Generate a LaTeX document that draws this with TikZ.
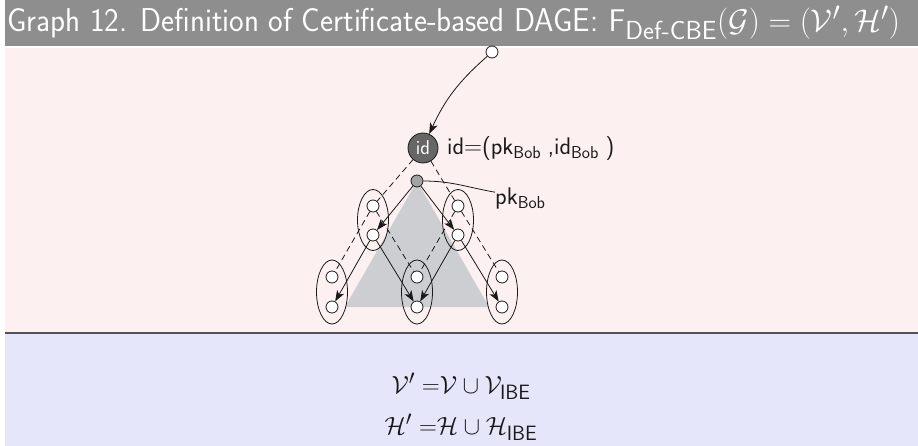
\documentclass[tikz,border=0pt]{standalone}
\usepackage{amsmath,amssymb,graphicx}
\usetikzlibrary{arrows.meta,positioning,shapes.geometric}
\definecolor{Bar}{HTML}{8E8E8E}
\definecolor{Blush}{HTML}{FCF0F0}
\definecolor{Lilac}{HTML}{E6E6FB}
\definecolor{Shade}{HTML}{CDCED1}
\definecolor{Dark}{HTML}{666666}
\definecolor{Mid}{HTML}{A3A3A3}
\definecolor{Ink}{HTML}{1A1A1A}
\tikzset{>={Stealth[length=11pt,width=8pt,inset=3pt]},
 every node/.style={font=\sffamily,text=Ink},
 vtx/.style={circle,draw=Ink,fill=white,line width=.8pt,inner sep=0pt,minimum size=12pt},
 grp/.style={ellipse,draw=Ink,line width=.8pt,inner sep=0pt,minimum width=31pt,minimum height=61pt},
 hard/.style={->,line width=.8pt,draw=Ink},
 soft/.style={line width=.8pt,draw=Ink,dash pattern=on 6pt off 4pt},
 tag/.style={font=\fontsize{24}{28}\sffamily,anchor=west,inner sep=0pt},
 }

\begin{document}
\begin{tikzpicture}[x=1pt,y=-1pt]
 \useasboundingbox (0,0) rectangle (918,446);
 % panels
 \fill[Bar](5,0)rectangle(918,46);
 \fill[Blush](5,48)rectangle(918,332);
 \fill[Lilac](5,334)rectangle(918,446);
 \draw[Ink!75,line width=1.6pt](5,333)--(918,333);
 \node[text=white,anchor=base west,inner sep=0pt] (title) at (7,32)
  {\fontsize{33}{40}\selectfont\scalebox{.94}[1]{Graph 12. Definition of Certificate-based DAGE:}
   \fontsize{24.88}{30}\selectfont\scalebox{1.26}{$\mathsf{F}_{\textsf{Def-CBE}}(\mathcal{G})=(\mathcal{V}',\mathcal{H}')$}};
 % shaded cone below pk
 \coordinate (apex) at (417,181);
 \fill[Shade](apex)--(345,307)--(489,307)--cycle;
 % groups
 \node[grp] (ul) at (373,220) {};
 \node[grp] (ur) at (458,220) {};
 \node[grp,minimum height=64pt] (bl) at (332,292) {};
 \node[grp,minimum height=64pt] (bm) at (417,292) {};
 \node[grp,minimum height=64pt] (br) at (502,292) {};
 \node[vtx] (ul1) at (373,206) {}; \node[vtx] (ul2) at (373,235) {};
 \node[vtx] (ur1) at (458,206) {}; \node[vtx] (ur2) at (458,235) {};
 \node[vtx] (bl1) at (332,277) {}; \node[vtx] (bl2) at (332,307) {};
 \node[vtx] (bm1) at (417,277) {}; \node[vtx] (bm2) at (417,307) {};
 \node[vtx] (br1) at (502,277) {}; \node[vtx] (br2) at (502,307) {};
 % certificate part
 \node[vtx] (src) at (492,52) {};
 \node[circle,draw=Ink,fill=Dark,line width=.8pt,inner sep=0pt,minimum size=30pt,
  font=\fontsize{20}{22}\sffamily,text=white] (id) at (423,148) {id};
 \node[vtx,fill=Mid] (pk) at (apex) {};
 \node[tag] (idlab) at (447,149) {id$=$(pk$_{\mathsf{Bob}}$\;,id$_{\mathsf{Bob}}$\;)};
 \node[tag] (pklab) at (495,199) {pk$_{\mathsf{Bob}}$};
 \draw[hard] (src) to[bend right=12] (id);
 \draw[line width=.8pt,draw=Ink] (pk) to[out=0,in=170] (pklab.165);
 \draw[soft] (id)--(ul1); \draw[soft] (id)--(ur1);
 \draw[hard] (pk)--(ul2); \draw[hard] (pk)--(ur2);
 \foreach \a/\b in {ul/bl,ul/bm,ur/bm,ur/br}{
  \draw[soft] (\a1)--(\b1);
  \draw[hard] (\a2)--(\b2);
 }
 % bottom block
 \node[font=\fontsize{24.88}{30}\selectfont] (veq) at (461,386)
  {$\mathcal{V}'\;{=}\mathcal{V}\cup\mathcal{V}_{\mathsf{IBE}}$};
 \node[font=\fontsize{24.88}{30}\selectfont] (heq) at (461,427)
  {$\mathcal{H}'\;{=}\mathcal{H}\cup\mathcal{H}_{\mathsf{IBE}}$};
\end{tikzpicture}
\end{document}
